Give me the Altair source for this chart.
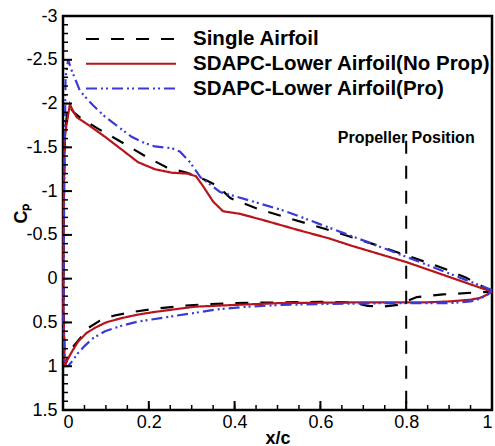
import altair as alt
import pandas as pd
import numpy as np

# ---------------- data ----------------
series_names = ["Single Airfoil", "SDAPC-Lower Airfoil(No Prop)", "SDAPC-Lower Airfoil(Pro)"]
series_colors = ["#000000", "#b8141c", "#3a3ad8"]
series_dashes = [[13, 12], [1, 0], [11, 4, 2, 3, 2, 4]]

# Single airfoil
single_up_x = [0.001, 0.002, 0.005, 0.012, 0.025, 0.04, 0.086, 0.14, 0.195, 0.242, 0.289, 0.335, 0.36, 0.39,
               0.452, 0.513, 0.576, 0.65, 0.72, 0.762, 0.81, 0.886, 0.94, 1.0]
single_up_cp = [0.2, -1.0, -1.7, -1.98, -1.9, -1.84, -1.70, -1.55, -1.39, -1.27, -1.21, -1.12, -1.06, -0.92,
                -0.80, -0.71, -0.62, -0.51, -0.40, -0.33, -0.25, -0.12, -0.01, 0.15]
single_lo_x = [0.004, 0.01, 0.02, 0.04, 0.06, 0.086, 0.12, 0.163, 0.22, 0.28, 0.34, 0.40, 0.513, 0.60,
               0.67, 0.71, 0.746, 0.78, 0.80, 0.825, 0.886, 0.955, 1.0]
single_lo_cp = [1.0, 0.92, 0.80, 0.68, 0.56, 0.48, 0.42, 0.38, 0.34, 0.31, 0.29, 0.28, 0.27, 0.265,
                0.27, 0.31, 0.32, 0.30, 0.26, 0.21, 0.18, 0.16, 0.15]

# SDAPC lower airfoil, no propeller
noprop_up_x = [0.001, 0.002, 0.004, 0.008, 0.016, 0.025, 0.033, 0.058, 0.098, 0.138, 0.175, 0.214, 0.254,
               0.29, 0.31, 0.326, 0.35, 0.373, 0.413, 0.466, 0.545, 0.62, 0.67, 0.8, 0.9, 1.0]
noprop_up_cp = [0.3, -1.0, -1.6, -1.75, -1.99, -1.90, -1.84, -1.76, -1.62, -1.47, -1.33, -1.25, -1.21,
                -1.20, -1.17, -1.06, -0.88, -0.77, -0.74, -0.67, -0.56, -0.46, -0.38, -0.19, -0.02, 0.15]
noprop_lo_x = [0.004, 0.01, 0.02, 0.035, 0.055, 0.075, 0.10, 0.137, 0.175, 0.214, 0.26, 0.308, 0.40, 0.50,
               0.60, 0.70, 0.80, 0.85, 0.90, 0.95, 0.972, 0.99, 1.0]
noprop_lo_cp = [1.0, 0.93, 0.84, 0.72, 0.62, 0.56, 0.50, 0.45, 0.41, 0.38, 0.35, 0.32, 0.30, 0.28,
                0.275, 0.27, 0.27, 0.27, 0.26, 0.24, 0.22, 0.18, 0.15]

# SDAPC lower airfoil, with propeller
pro_up_x = [0.001, 0.002, 0.004, 0.006, 0.012, 0.02, 0.04, 0.07, 0.098, 0.13, 0.16, 0.19, 0.214, 0.254,
            0.273, 0.296, 0.32, 0.366, 0.43, 0.506, 0.552, 0.60, 0.709, 0.80, 0.90, 1.0]
pro_up_cp = [0.5, -0.5, -1.5, -2.3, -2.50, -2.38, -2.14, -1.98, -1.85, -1.73, -1.62, -1.55, -1.51, -1.49,
             -1.45, -1.33, -1.16, -0.99, -0.90, -0.79, -0.71, -0.62, -0.42, -0.25, -0.06, 0.13]
pro_lo_x = [0.004, 0.012, 0.02, 0.035, 0.05, 0.07, 0.098, 0.135, 0.175, 0.254, 0.308, 0.36, 0.43, 0.51,
            0.60, 0.746, 0.80, 0.90, 0.95, 0.972, 0.99, 1.0]
pro_lo_cp = [1.0, 1.0, 0.95, 0.85, 0.77, 0.68, 0.60, 0.54, 0.49, 0.43, 0.39, 0.35, 0.32, 0.30,
             0.29, 0.28, 0.28, 0.28, 0.26, 0.23, 0.18, 0.13]

prop_x = [0.8]
prop_top = [-1.575]
prop_bottom = [1.5]
prop_label = ["Propeller Position"]
prop_label_cp = [-1.61]

x_ticks = [0, 0.2, 0.4, 0.6, 0.8, 1]
y_ticks = [-3, -2.5, -2, -1.5, -1, -0.5, 0, 0.5, 1, 1.5]
x_minor = [round(v, 2) for v in np.arange(0, 1.0001, 0.05)]
y_minor = [round(v, 1) for v in np.arange(-3, 1.5001, 0.1)]

# ---------------- build tables ----------------
rows = []
for name, ux, uc, lx, lc in [
    (series_names[0], single_up_x, single_up_cp, single_lo_x, single_lo_cp),
    (series_names[1], noprop_up_x, noprop_up_cp, noprop_lo_x, noprop_lo_cp),
    (series_names[2], pro_up_x, pro_up_cp, pro_lo_x, pro_lo_cp),
]:
    xs = list(ux[::-1]) + list(lx)
    cs = list(uc[::-1]) + list(lc)
    for i, (a, b) in enumerate(zip(xs, cs)):
        rows.append({"series": name, "x": a, "cp": b, "idx": i})
df = pd.DataFrame(rows)

prop_df = pd.DataFrame({"x": prop_x, "cp": prop_top, "cp2": prop_bottom})
label_df = pd.DataFrame({"x": prop_x, "cp": prop_label_cp, "text": prop_label})
xmaj_df = pd.DataFrame({"x": x_ticks})
ymaj_df = pd.DataFrame({"cp": y_ticks})
xmin_df = pd.DataFrame({"x": x_minor})
ymin_df = pd.DataFrame({"cp": y_minor})

W, H = 429, 394
FONT = "Liberation Sans"
xscale = alt.Scale(domain=[0, 1], nice=False, zero=False)
yscale = alt.Scale(domain=[-3, 1.5], nice=False, zero=False, reverse=True)

legend = alt.Legend(
    title=None, orient="none", legendX=22, legendY=12,
    symbolType="stroke", symbolSize=8100, symbolStrokeWidth=2,
    labelFont=FONT, labelFontSize=20.5, labelFontWeight="bold", labelColor="black",
    labelOffset=16, labelLimit=500, padding=0, rowPadding=2.8, clipHeight=22,
)

x_axis = alt.Axis(
    orient="bottom", values=x_ticks, labelExpr="'' + datum.value", domain=False, ticks=False,
    grid=False, labelFont=FONT, labelFontSize=18, labelColor="black", labelPadding=3,
    title="x/c", titleFont=FONT, titleFontSize=18, titleFontWeight="bold", titleColor="black",
    titleBaseline="middle", titleY=28)
y_axis = alt.Axis(
    orient="left", values=y_ticks, labelExpr="'' + datum.value", domain=False, ticks=False,
    grid=False, labelFont=FONT, labelFontSize=18, labelColor="black", labelPadding=6,
    title="Cₚ", titleFont=FONT, titleFontSize=18, titleFontWeight="bold", titleColor="black",
    titleAngle=270, titleBaseline="middle", titleX=-42, titleY=197)

main = alt.Chart(df).mark_line(strokeWidth=2.2).encode(
    x=alt.X("x:Q", scale=xscale, axis=x_axis),
    y=alt.Y("cp:Q", scale=yscale, axis=y_axis),
    color=alt.Color("series:N", scale=alt.Scale(domain=series_names, range=series_colors), legend=legend),
    strokeDash=alt.StrokeDash("series:N", scale=alt.Scale(domain=series_names, range=series_dashes), legend=legend),
    order="idx:Q",
)

xmaj = alt.Chart(xmaj_df).mark_rule(color="black", strokeWidth=2).encode(
    x=alt.X("x:Q", scale=xscale, axis=x_axis), y=alt.value(H), y2=alt.value(H - 9))
ymaj = alt.Chart(ymaj_df).mark_rule(color="black", strokeWidth=2).encode(
    y=alt.Y("cp:Q", scale=yscale, axis=y_axis), x=alt.value(0), x2=alt.value(9))
xmin = alt.Chart(xmin_df).mark_rule(color="black", strokeWidth=1.5).encode(
    x=alt.X("x:Q", scale=xscale, axis=x_axis), y=alt.value(H), y2=alt.value(H - 5))
ymin = alt.Chart(ymin_df).mark_rule(color="black", strokeWidth=1.5).encode(
    y=alt.Y("cp:Q", scale=yscale, axis=y_axis), x=alt.value(0), x2=alt.value(5))

prop_line = alt.Chart(prop_df).mark_rule(strokeDash=[13, 12], strokeWidth=2, color="black").encode(
    x=alt.X("x:Q", scale=xscale, axis=x_axis),
    y=alt.Y("cp:Q", scale=yscale, axis=y_axis),
    y2="cp2:Q",
)

prop_text = alt.Chart(label_df).mark_text(
    font=FONT, fontSize=16, fontWeight="bold", color="black", align="center", baseline="middle"
).encode(
    x=alt.X("x:Q", scale=xscale, axis=x_axis),
    y=alt.Y("cp:Q", scale=yscale, axis=y_axis),
    text="text:N",
)

chart = alt.layer(main, xmin, ymin, xmaj, ymaj, prop_line, prop_text).properties(
    width=W, height=H,
    autosize=alt.AutoSizeParams(type="none"),
    padding={"left": 63, "top": 16, "right": 3, "bottom": 36},
    background="white",
).configure_view(stroke="black", strokeWidth=2.5)

chart.save("out.html", embed_options={"renderer": "svg", "actions": False})
